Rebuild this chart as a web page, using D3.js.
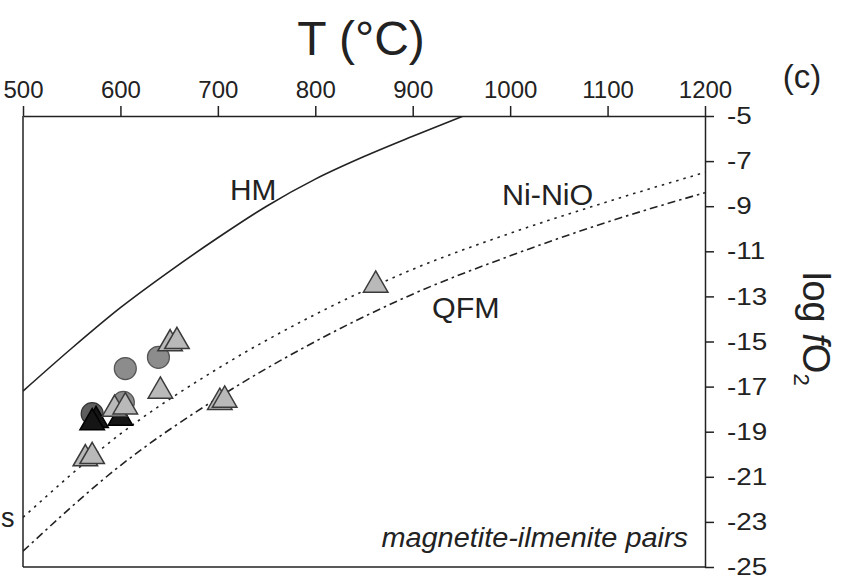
<!DOCTYPE html>
<html>
<head>
<meta charset="utf-8">
<script src="https://cdn.jsdelivr.net/npm/d3@7"></script>
<style>
	body { margin: 0; background: #fff; }
	svg text { font-family: "Liberation Sans", Arial, sans-serif; fill: #222; }
</style>
</head>
<body>
<div id="main"></div>
<script>
// values
const tempTicks = [500, 600, 700, 800, 900, 1000, 1100, 1200];
const fo2Ticks = [-5, -7, -9, -11, -13, -15, -17, -19, -21, -23, -25];

// buffer curves (T in degC, log fO2)
const hmT = [500, 550, 600, 650, 700, 750, 800, 850, 900, 952];
const hmFo2 = [-17.2, -15.3, -13.5, -11.9, -10.4, -9.0, -7.8, -6.8, -5.9, -5.0];
const nnoT = [500, 600, 700, 800, 900, 1000, 1100, 1200];
const nnoFo2 = [-22.8, -19.1, -16.2, -13.8, -11.8, -10.2, -8.8, -7.5];
const qfmT = [500, 600, 700, 800, 900, 1000, 1100, 1200];
const qfmFo2 = [-24.3, -20.5, -17.5, -15.0, -12.9, -11.2, -9.7, -8.4];

// samples [T, log fO2]
const grayCircles = [[605, -16.2], [639, -15.7], [603, -17.7]];
const darkCircles = [[571, -18.2]];
const blackTriangles = [[600, -18.4], [575, -18.5], [571, -18.6]];
const grayTriangles = [
	[651, -15.1], [658, -15.0], [641, -17.2], [594, -18.0], [605, -17.9],
	[564, -20.2], [571, -20.1], [702, -17.7], [707, -17.6], [862, -12.5],
];

const width = 846,
	height = 580;

const x = d3.scaleLinear().domain([500, 1200]).range([23, 705]);
const y = d3.scaleLinear().domain([-5, -25]).range([116, 567]);

const svg = d3
	.select("#main")
	.append("svg")
	.attr("width", width)
	.attr("height", height);

const font = (sel, size) =>
	sel.style("font-size", `${size}px`).style("fill", "#222");

// frame: left and bottom sides
svg.append("line")
	.attr("x1", x(500)).attr("x2", x(500))
	.attr("y1", y(-5)).attr("y2", y(-25))
	.attr("stroke", "#222").attr("stroke-width", 1.5);
svg.append("line")
	.attr("x1", x(500)).attr("x2", x(1200))
	.attr("y1", y(-25)).attr("y2", y(-25))
	.attr("stroke", "#222").attr("stroke-width", 1.5);

// top axis
const topAxis = svg
	.append("g")
	.attr("transform", `translate(0,${y(-5)})`)
	.call(
		d3.axisTop(x).tickValues(tempTicks).tickSize(10).tickSizeOuter(0).tickPadding(8)
			.tickFormat(d3.format("d"))
	);
topAxis.selectAll("text").call(font, 24);

// right axis
const rightAxis = svg
	.append("g")
	.attr("transform", `translate(${x(1200)},0)`)
	.call(
		d3.axisRight(y).tickValues(fo2Ticks).tickSize(9).tickPadding(10).tickSizeOuter(0)
			.tickFormat((d) => "-" + Math.abs(d))
	);
rightAxis.selectAll("text").call(font, 24).attr("transform", "scale(1.16,1)");
svg.selectAll(".domain, .tick line").attr("stroke", "#222").attr("stroke-width", 1.5);

// buffer curves
svg.append("clipPath")
	.attr("id", "plot-clip")
	.append("rect")
	.attr("x", x(500)).attr("y", y(-5))
	.attr("width", x(1200) - x(500)).attr("height", y(-25) - y(-5));

const line = d3
	.line()
	.x((d) => x(d[0]))
	.y((d) => y(d[1]))
	.curve(d3.curveMonotoneX);

const curves = [
	{ t: hmT, v: hmFo2, dash: null },
	{ t: nnoT, v: nnoFo2, dash: "2.5,5" },
	{ t: qfmT, v: qfmFo2, dash: "8,4,2.5,4" },
];
svg.append("g")
	.attr("clip-path", "url(#plot-clip)")
	.selectAll("path")
	.data(curves)
	.enter()
	.append("path")
	.attr("d", (c) => line(c.t.map((t, i) => [t, c.v[i]])))
	.attr("fill", "none")
	.attr("stroke", "#222")
	.attr("stroke-width", 1.6)
	.attr("stroke-dasharray", (c) => c.dash);

// samples
const pts = svg.append("g");
const addCircles = (data, fill, stroke) => {
	pts.selectAll(null)
		.data(data)
		.enter()
		.append("circle")
		.attr("cx", (d) => x(d[0]))
		.attr("cy", (d) => y(d[1]))
		.attr("r", 11)
		.attr("fill", fill)
		.attr("stroke", stroke)
		.attr("stroke-width", 1.2);
};
const tri = d3.symbol().type(d3.symbolTriangle).size(260);
const addTriangles = (data, fill, stroke) => {
	pts.selectAll(null)
		.data(data)
		.enter()
		.append("path")
		.attr("d", tri)
		.attr("transform", (d) => `translate(${x(d[0])},${y(d[1])})`)
		.attr("fill", fill)
		.attr("stroke", stroke)
		.attr("stroke-width", 1.5);
};
addCircles(grayCircles, "#8c8c8c", "#555");
addCircles(darkCircles, "#5e5e5e", "#333");
addTriangles(blackTriangles, "#151515", "#000");
addTriangles(grayTriangles, "#b9b9b9", "#3a3a3a");

// labels
const label = (txt, tx, ty, size, anchor, sx, italic) =>
	svg.append("text")
		.attr("transform", `translate(${tx},${ty}) scale(${sx},1)`)
		.attr("text-anchor", anchor)
		.style("font-style", italic ? "italic" : "normal")
		.call(font, size)
		.text(txt);

label("T (°C)", 361, 55, 48, "middle", 1, false);
label("(c)", 802, 88, 33, "middle", 1, false);
label("HM", 230, 200, 29, "start", 1.03, false);
label("Ni-NiO", 502, 205, 29, "start", 1.05, false);
label("QFM", 432, 318, 29, "start", 1.05, false);
label("magnetite-ilmenite pairs", 688, 547, 27, "end", 1.07, true);
label("s", 1, 527, 27, "start", 1, false);

// y title, rotated to read downward
const yTitle = svg
	.append("text")
	.attr("transform", "translate(803,272) rotate(90)")
	.call(font, 38);
yTitle.append("tspan").text("log ");
yTitle.append("tspan").style("font-style", "italic").text("f");
yTitle.append("tspan").text("O");
yTitle.append("tspan").attr("dy", 9).style("font-size", "22px").text("2");
</script>
</body>
</html>
